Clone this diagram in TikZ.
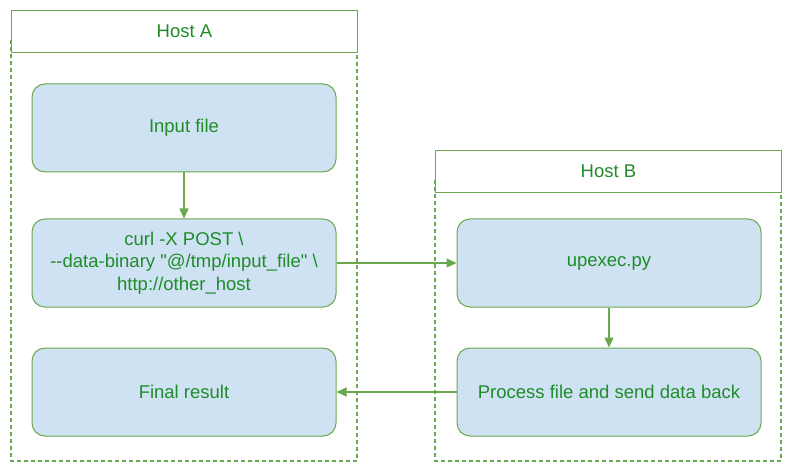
\documentclass[tikz,border=0pt]{standalone}
\usepackage{fontspec}
\setmainfont{Liberation Sans}[Ligatures=TeXOff]
\usetikzlibrary{arrows.meta}
\definecolor{hostgreen}{HTML}{6AA84F}
\definecolor{textgreen}{HTML}{1E8C28}
\definecolor{boxblue}{HTML}{CFE2F3}
\begin{document}
\begin{tikzpicture}
[x=1pt, y=-1pt,
 every node/.style={font=\fontsize{18.5}{22.5}\selectfont, text=textgreen},
 hosthead/.style={draw=hostgreen, fill=white, line width=1.1pt, minimum width=346pt, minimum height=42pt},
 hostbody/.style={draw=hostgreen, line width=1.3pt, dash pattern=on 4pt off 3pt},
 stepbox/.style={draw=hostgreen, fill=boxblue, rounded corners=13pt, line width=1pt,
                 minimum width=304pt, minimum height=88pt, align=center},
 link/.style={draw=hostgreen, line width=1.5pt, -{Triangle[length=10pt,width=9pt]}}]
\useasboundingbox (0,0) rectangle (796,476);
\draw[hostbody] (11,40) rectangle (357,461);
\draw[hostbody] (435,180) rectangle (781,461);
\node[hosthead] (hosta) at (184.5,31.5) {Host A};
\node[hosthead] (hostb) at (608.5,171.5) {Host B};
\node[stepbox] (input) at (184,128) {Input file};
\node[stepbox] (curl) at (184,263) {curl -X POST \textbackslash\\--data-binary "@/tmp/input\_file" \textbackslash\\http://other\_host};
\node[stepbox] (final) at (184,392) {Final result};
\node[stepbox] (upexec) at (609,263) {upexec.py};
\node[stepbox] (process) at (609,392) {Process file and send data back};
\draw[link] (input) -- (curl);
\draw[link] (curl) -- (upexec);
\draw[link] (upexec) -- (process);
\draw[link] (process) -- (final);
\end{tikzpicture}
\end{document}
